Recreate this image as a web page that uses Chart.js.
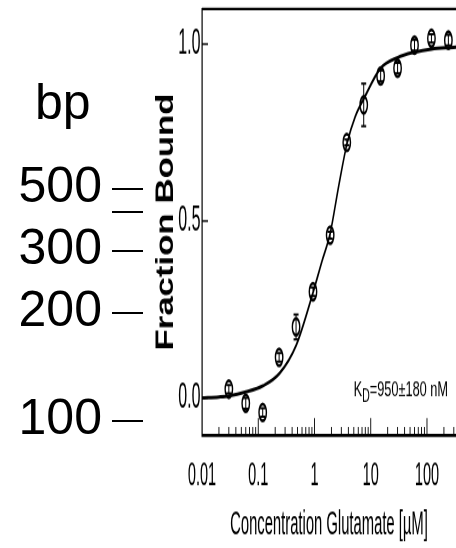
<!DOCTYPE html>
<html>
<head>
<meta charset="utf-8">
<script src="https://cdn.jsdelivr.net/npm/chart.js@4"></script>
<style>
  html, body { margin: 0; padding: 0; background: #fff; }
  body { width: 456px; height: 548px; position: relative; overflow: hidden;
         font-family: "Liberation Sans", Arial, sans-serif; }
  /* 元の図は縦に引き伸ばされているので、描いてから縦に伸ばす */
  #plot { position: absolute; left: 0; top: 0; width: 456px; height: 240px;
          transform: scaleY(2.28333); transform-origin: 0 0; }
  .bp { position: absolute; font-size: 50px; line-height: 50px; color: #000; white-space: nowrap; }
  .band { position: absolute; left: 112px; width: 31px; height: 2px; background: #000; }
</style>
</head>
<body>
<div id="plot"><canvas id="bindingChart"></canvas></div>
<div id="ladder"></div>
<script>
'use strict'

// 測定点 (濃度 µM, 結合率, 誤差)
const conc = [0.03, 0.06, 0.12, 0.235, 0.47, 0.94, 1.9, 3.75, 7.5, 15, 30, 60, 120, 240];
const bound = [0.025, -0.015, -0.041, 0.115, 0.201, 0.300, 0.46, 0.722, 0.828, 0.910, 0.932, 0.997, 1.016, 1.011];
const boundErr = [0.012, 0.015, 0.012, 0.012, 0.035, 0.012, 0.01, 0.008, 0.06, 0.015, 0.015, 0.015, 0.012, 0.015];

// フィット曲線
const fitConc = [0.01, 0.02, 0.03, 0.06, 0.12, 0.24, 0.47, 0.95, 1.35, 1.9, 2.7, 3.8, 5.3, 7.5, 15, 30, 60, 120, 240, 330];
const fitBound = [0.0, 0.003, 0.006, 0.017, 0.034, 0.07, 0.148, 0.30, 0.385, 0.465, 0.60, 0.72, 0.795, 0.845, 0.932, 0.962, 0.977, 0.986, 0.990, 0.991];

// 軸
const xTickValues = [0.01, 0.1, 1, 10, 100];
const xTickLabels = ['0.01', '0.1', '1', '10', '100'];
const yTickValues = [0, 0.5, 1];
const yTickLabels = ['0.0', '0.5', '1.0'];
const xTitle = 'Concentration Glutamate [µM]';
const yTitle = 'Fraction Bound';
const kdValue = 950;
const kdError = 180;

// マーカー（bp）
const ladderBp = [500, 400, 300, 200, 100];
const ladderLabels = ['500', '', '300', '200', '100'];

const FONT = '"Liberation Sans", Arial, sans-serif';

// ラダーの描画（HTML）
const bandY = [189, 212, 251, 313, 421];
const ladder = document.getElementById('ladder');
let head = document.createElement('div');
head.className = 'bp';
head.style.left = '35px';
head.style.top = '77px';
head.textContent = 'bp';
ladder.appendChild(head);
ladderBp.forEach((bp, i) => {
  const band = document.createElement('div');
  band.className = 'band';
  band.style.top = (bandY[i] - 1) + 'px';
  ladder.appendChild(band);
  if (ladderLabels[i]) {
    const lab = document.createElement('div');
    lab.className = 'bp';
    lab.style.left = '0px';
    lab.style.width = '102px';
    lab.style.textAlign = 'right';
    lab.style.top = (bandY[i] - 29) + 'px';
    lab.textContent = ladderLabels[i];
    ladder.appendChild(lab);
  }
});

// 誤差棒
const errorBars = {
  id: 'errorBars',
  afterDatasetsDraw(chart) {
    const {ctx, scales: {x, y}} = chart;
    ctx.save();
    ctx.strokeStyle = '#000';
    ctx.lineWidth = 1;
    conc.forEach((c, i) => {
      const px = x.getPixelForValue(c);
      const top = y.getPixelForValue(bound[i] + boundErr[i]);
      const bot = y.getPixelForValue(bound[i] - boundErr[i]);
      ctx.beginPath();
      ctx.moveTo(px, top); ctx.lineTo(px, bot);
      ctx.moveTo(px - 2.5, top); ctx.lineTo(px + 2.5, top);
      ctx.moveTo(px - 2.5, bot); ctx.lineTo(px + 2.5, bot);
      ctx.stroke();
    });
    ctx.restore();
  }
};

// 上の枠線、内向きの目盛り、縦軸タイトル、KD 表示
const frame = {
  id: 'frame',
  afterDraw(chart) {
    const {ctx, chartArea: a, scales: {x, y}} = chart;
    ctx.save();
    ctx.strokeStyle = '#000';
    ctx.lineWidth = 1.2;
    ctx.beginPath();
    ctx.moveTo(a.left, a.top);
    ctx.lineTo(a.right, a.top);
    ctx.stroke();

    // x 目盛り（1〜9 の位置だけ）
    ctx.lineWidth = 0.9;
    x.ticks.forEach(t => {
      const e = Math.floor(Math.log10(t.value) + 1e-9);
      const m = t.value / Math.pow(10, e);
      if (Math.abs(m - Math.round(m)) > 1e-6) return;
      const len = Math.round(m) === 1 ? 7.4 : 3.5;
      const px = x.getPixelForValue(t.value);
      ctx.beginPath();
      ctx.moveTo(px, a.bottom);
      ctx.lineTo(px, a.bottom - len);
      ctx.stroke();
    });

    // y 目盛り
    ctx.lineWidth = 0.8;
    yTickValues.forEach(v => {
      const py = y.getPixelForValue(v);
      ctx.beginPath();
      ctx.moveTo(a.left, py);
      ctx.lineTo(a.left + 6, py);
      ctx.stroke();
    });

    // 縦軸タイトル
    ctx.fillStyle = '#000';
    ctx.save();
    ctx.translate(a.left - 29, (a.top + a.bottom) / 2);
    ctx.rotate(-Math.PI / 2);
    ctx.scale(0.61, 1);
    ctx.font = `bold 25px ${FONT}`;
    ctx.textAlign = 'center';
    ctx.textBaseline = 'alphabetic';
    ctx.fillText(yTitle, 0, 0);
    ctx.restore();

    // K_D=950±180 nM
    const rest = `=${kdValue}±${kdError} nM`;
    const big = `9.4px ${FONT}`, small = `7.8px ${FONT}`;
    ctx.font = big;
    const w1 = ctx.measureText('K').width;
    const w3 = ctx.measureText(rest).width;
    ctx.font = small;
    const w2 = ctx.measureText('D').width;
    const sx = 1.36;
    const left = a.right - 8 - (w1 + w2 + w3) * sx;
    ctx.save();
    ctx.translate(left, y.getPixelForValue(0.006));
    ctx.scale(sx, 1);
    ctx.textAlign = 'left';
    ctx.textBaseline = 'alphabetic';
    ctx.font = big;
    ctx.fillText('K', 0, 0);
    ctx.fillText(rest, w1 + w2, 0);
    ctx.font = small;
    ctx.fillText('D', w1, 2.6);
    ctx.restore();
    ctx.restore();
  }
};

// ラベルのはみ出し分の余白を消して、描画領域を固定する
function fixX(s) {
  s.height = 49.5;
  s.paddingLeft = 0;
  s.paddingRight = 0;
}
function fixY(s) {
  s.width = 202;
  s.paddingTop = 0;
  s.paddingBottom = 0;
}

const ctx = document.getElementById('bindingChart').getContext('2d');
const bindingChart = new Chart(ctx, {
  type: 'scatter',
  data: {
    datasets: [{
      label: 'fit',
      data: fitConc.map((c, i) => ({x: c, y: fitBound[i]})),
      showLine: true,
      borderColor: '#000',
      borderWidth: 1.5,
      pointRadius: 0,
      cubicInterpolationMode: 'monotone'
    }, {
      label: 'data',
      data: conc.map((c, i) => ({x: c, y: bound[i]})),
      pointStyle: 'circle',
      pointRadius: 3.7,
      pointBorderWidth: 1.4,
      borderColor: '#000',
      backgroundColor: 'rgba(0,0,0,0)',
      pointBackgroundColor: 'rgba(0,0,0,0)',
      pointBorderColor: '#000'
    }]
  },
  options: {
    responsive: true,
    maintainAspectRatio: false,
    animation: false,
    devicePixelRatio: 2,
    layout: { autoPadding: false, padding: { top: 3.94, right: 0, bottom: 0, left: 0 } },
    plugins: { legend: { display: false }, tooltip: { enabled: false } },
    scales: {
      x: {
        type: 'logarithmic',
        min: 0.01,
        max: 328,
        afterFit: fixX,
        grid: { display: false, drawTicks: false },
        border: { display: true, color: '#000', width: 1.4 },
        ticks: {
          autoSkip: false,
          maxRotation: 0,
          padding: 9.5,
          color: '#000',
          font: { family: FONT, size: 14.5 },
          callback: v => {
            const i = xTickValues.findIndex(t => Math.abs(t - v) / t < 1e-6);
            return i >= 0 ? xTickLabels[i] : '';
          }
        },
        title: {
          display: true,
          text: xTitle,
          color: '#000',
          font: { family: FONT, size: 14.8 },
          padding: { top: 0, bottom: 1.4 }
        }
      },
      y: {
        min: -0.1045,
        max: 1.099,
        afterFit: fixY,
        afterBuildTicks: s => { s.ticks = yTickValues.map(v => ({value: v})); },
        grid: { display: false, drawTicks: false },
        border: { display: true, color: '#000', width: 1.2 },
        ticks: {
          padding: 1.5,
          color: '#000',
          font: { family: FONT, size: 16 },
          callback: v => {
            const i = yTickValues.findIndex(t => Math.abs(t - v) < 1e-6);
            return i >= 0 ? yTickLabels[i] : '';
          }
        }
      }
    }
  },
  plugins: [errorBars, frame]
});
</script>
</body>
</html>
